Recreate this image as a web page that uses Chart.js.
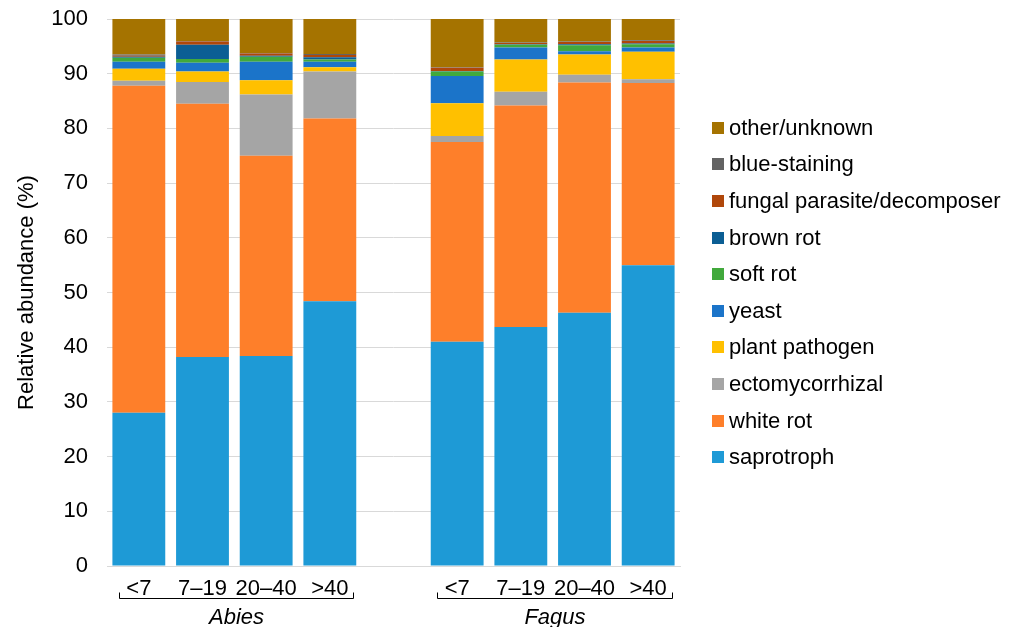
<!DOCTYPE html>
<html>
<head>
<meta charset="utf-8">
<script src="https://cdn.jsdelivr.net/npm/chart.js@4"></script>
<style>
  body { margin: 0; background: #fff; }
  #wrap { width: 1014px; height: 627px; position: relative; }
</style>
</head>
<body>
<div id="wrap"><canvas id="chart"></canvas></div>
<script>
/* --------------- Data --------------------- */
const sizeClasses = ["<7", "7–19", "20–40", ">40", "", "<7", "7–19", "20–40", ">40"];
const groups = ["Abies", "Fagus"];

// values per bar, null = gap between the two groups
const saprotroph   = [28.0, 38.2, 38.4, 48.4, null, 41.0, 43.7, 46.3, 55.0];
const whiteRot     = [59.8, 46.3, 36.6, 33.4, null, 36.5, 40.5, 42.1, 33.3];
const ecto         = [0.9, 4.0, 11.2, 8.6, null, 1.1, 2.5, 1.4, 0.7];
const plantPath    = [2.2, 1.9, 2.6, 0.8, null, 6.0, 5.9, 3.7, 5.0];
const yeast        = [1.3, 1.6, 3.4, 1.0, null, 5.0, 2.2, 0.6, 0.8];
const softRot      = [0.7, 0.7, 0.9, 0.4, null, 0.8, 0.5, 1.1, 0.6];
const brownRot     = [0.2, 2.6, 0.2, 0.4, null, 0.1, 0.1, 0.2, 0.1];
const fungalPara   = [0.2, 0.6, 0.4, 0.4, null, 0.6, 0.2, 0.4, 0.5];
const blueStaining = [0.2, 0.1, 0.1, 0.2, null, 0.1, 0.1, 0.1, 0.1];
const otherUnknown = [6.5, 4.0, 6.2, 6.4, null, 8.8, 4.3, 4.1, 4.0];

const yTicks = [0, 10, 20, 30, 40, 50, 60, 70, 80, 90, 100];

const FONT = "Arial, 'Liberation Sans', sans-serif";

const series = [
  { label: "saprotroph", data: saprotroph, color: "#1E9AD6" },
  { label: "white rot", data: whiteRot, color: "#FE7F2A" },
  { label: "ectomycorrhizal", data: ecto, color: "#A5A5A5" },
  { label: "plant pathogen", data: plantPath, color: "#FFC000" },
  { label: "yeast", data: yeast, color: "#1B74C9" },
  { label: "soft rot", data: softRot, color: "#41A93C" },
  { label: "brown rot", data: brownRot, color: "#0B5E94" },
  { label: "fungal parasite/decomposer", data: fungalPara, color: "#B0470A" },
  { label: "blue-staining", data: blueStaining, color: "#636363" },
  { label: "other/unknown", data: otherUnknown, color: "#A57300" },
];

/* --------------- Brackets + group names under the axis --------------------- */
const groupLabels = {
  id: "groupLabels",
  afterDraw(chart) {
    const ctx = chart.ctx;
    const x = chart.scales.x;
    const step = x.getPixelForValue(1) - x.getPixelForValue(0);
    const base = chart.chartArea.bottom;
    ctx.save();
    ctx.strokeStyle = "#000";
    ctx.lineWidth = 1;
    groups.forEach((g, gi) => {
      const first = gi * 5;
      const last = first + 3;
      const x1 = Math.round(x.getPixelForValue(first) - step * 0.31) + 0.5;
      const x2 = Math.round(x.getPixelForValue(last) + step * 0.37) + 0.5;
      const yb = base + 32.5;
      ctx.beginPath();
      ctx.moveTo(x1, yb - 6);
      ctx.lineTo(x1, yb);
      ctx.lineTo(x2, yb);
      ctx.lineTo(x2, yb - 6);
      ctx.stroke();
      ctx.fillStyle = "#000";
      ctx.font = "italic 22px " + FONT;
      ctx.textAlign = "center";
      ctx.textBaseline = "middle";
      ctx.fillText(g, (x1 + x2) / 2, base + 52);
    });
    ctx.restore();
  },
};

/* --------------- Legend on the right (top item = last series) --------------------- */
const sideLegend = {
  id: "sideLegend",
  afterDraw(chart) {
    const ctx = chart.ctx;
    const area = chart.chartArea;
    const items = chart.data.datasets.slice().reverse();
    const gap = 36.6;
    const y0 = (area.top + area.bottom) / 2 - gap * (items.length - 1) / 2;
    const bx = area.right + 32;
    ctx.save();
    ctx.font = "22px " + FONT;
    ctx.textBaseline = "middle";
    ctx.textAlign = "left";
    items.forEach((ds, i) => {
      const y = y0 + i * gap;
      ctx.fillStyle = ds.backgroundColor;
      ctx.fillRect(bx, Math.round(y - 6), 12, 12);
      ctx.fillStyle = "#000";
      ctx.fillText(ds.label, bx + 17, y + 1);
    });
    ctx.restore();
  },
};

/* --------------- Chart --------------------- */
new Chart(document.getElementById("chart"), {
  type: "bar",
  plugins: [groupLabels, sideLegend],
  data: {
    labels: sizeClasses,
    datasets: series.map((s) => ({
      label: s.label,
      data: s.data,
      backgroundColor: s.color,
      borderWidth: 0,
      barPercentage: 0.83,
      categoryPercentage: 1,
    })),
  },
  options: {
    responsive: true,
    maintainAspectRatio: false,
    animation: false,
    layout: { padding: { top: 19, left: 14, right: 334, bottom: 0 } },
    plugins: {
      tooltip: { enabled: false },
      legend: { display: false },
    },
    scales: {
      x: {
        stacked: true,
        grid: { display: false, drawTicks: false },
        border: { display: true, color: "#D9D9D9" },
        ticks: {
          font: { family: FONT, size: 22 },
          color: "#000",
          padding: 10,
          maxRotation: 0,
          autoSkip: false,
        },
        afterFit: (axis) => {
          axis.height = 61;
          axis.paddingLeft = 0;
          axis.paddingRight = 0;
        },
      },
      y: {
        stacked: true,
        min: 0,
        max: 100,
        afterBuildTicks: (axis) => {
          axis.ticks = yTicks.map((v) => ({ value: v }));
        },
        afterFit: (axis) => {
          axis.width = 93;
          axis.paddingTop = 0;
          axis.paddingBottom = 0;
        },
        grid: { color: "#D9D9D9", drawTicks: false },
        border: { display: false },
        ticks: {
          font: { family: FONT, size: 22 },
          color: "#000",
          padding: 19,
        },
        title: {
          display: true,
          text: "Relative abundance (%)",
          font: { family: FONT, size: 22 },
          color: "#000",
          padding: { top: 0, bottom: 0 },
        },
      },
    },
  },
});
</script>
</body>
</html>
